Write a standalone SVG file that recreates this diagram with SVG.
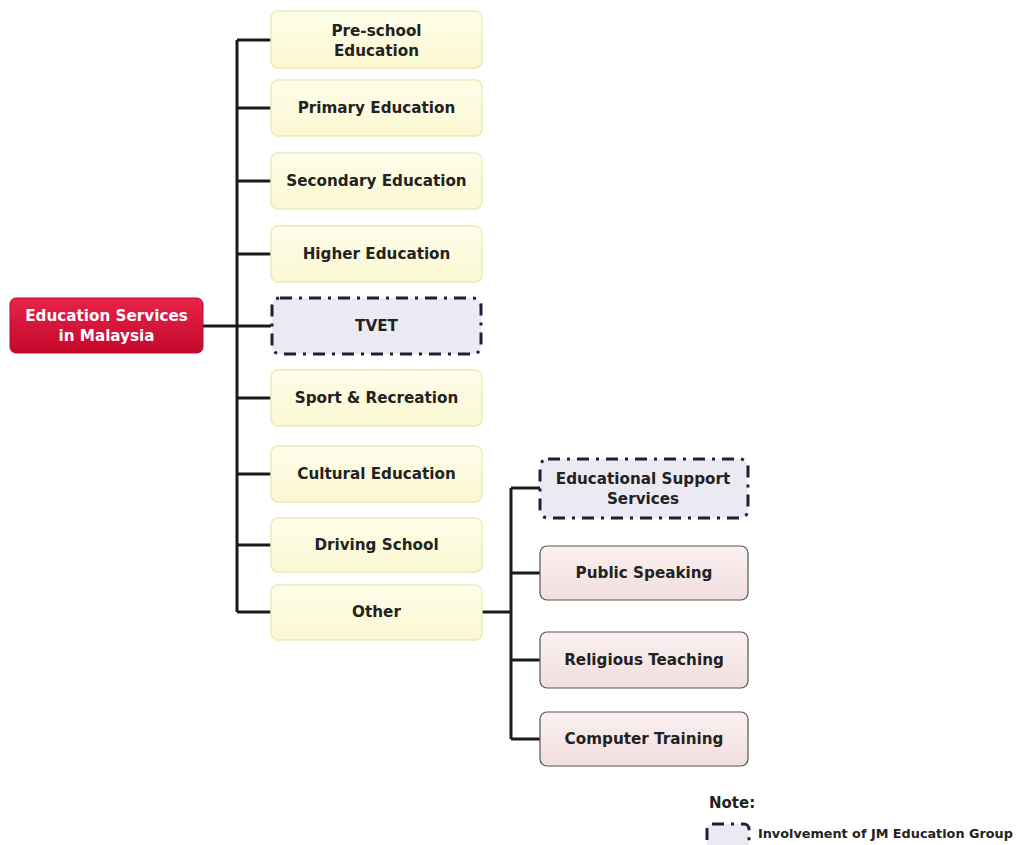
<svg xmlns="http://www.w3.org/2000/svg" width="1019" height="845" viewBox="0 0 1019 845">
<defs>
<linearGradient id="gRed" x1="0" y1="0" x2="0" y2="1">
<stop offset="0" stop-color="#e8234a"/>
<stop offset="1" stop-color="#c4082c"/>
</linearGradient>
<linearGradient id="gYel" x1="0" y1="0" x2="0" y2="1">
<stop offset="0" stop-color="#fefde9"/>
<stop offset="1" stop-color="#fbf8d2"/>
</linearGradient>
<linearGradient id="gPink" x1="0" y1="0" x2="0" y2="1">
<stop offset="0" stop-color="#faf0f0"/>
<stop offset="1" stop-color="#f2dedf"/>
</linearGradient>
<style>
text{font-family:"DejaVu Sans",Verdana,sans-serif;font-weight:bold;font-size:15.2px;fill:#222;text-anchor:middle}
.yel{fill:url(#gYel);stroke:#ecebb8;stroke-width:1.5}
.jm{fill:#ebeaf3;stroke:#1c2038;stroke-width:3;stroke-dasharray:12 7 3 7}
.pink{fill:url(#gPink);stroke:#555;stroke-width:1.2}
.red{fill:url(#gRed);stroke:#b0102c;stroke-width:1}
.wt{fill:#fff}
.con{fill:none;stroke:#1a1a1a;stroke-width:3}
</style>
</defs>
<rect width="1019" height="845" fill="#fff"/>
<g id="connectors">
<path class="con" d="M237 40 V612"/>
<path class="con" d="M237 40 H271 M237 108 H271 M237 181 H271 M237 254 H271 M237 398 H271 M237 474 H271 M237 545 H271 M237 612 H271"/>
<path class="con" d="M203 326 H271"/>
<path class="con" d="M482 612 H511"/>
<path class="con" d="M511 488 V739"/>
<path class="con" d="M511 488 H540 M511 573 H540 M511 660 H540 M511 739 H540"/>
</g>
<g id="root">
<rect class="red" x="10" y="298" width="193" height="55" rx="6"/>
<text class="wt" x="106.5" y="321">Education Services</text>
<text class="wt" x="106.5" y="341">in Malaysia</text>
</g>
<g id="preschool">
<rect class="yel" x="271" y="11" width="211" height="57" rx="7"/>
<text x="376.5" y="36">Pre-school</text>
<text x="376.5" y="56">Education</text>
</g>
<g id="primary">
<rect class="yel" x="271" y="80" width="211" height="56" rx="7"/>
<text x="376.5" y="113">Primary Education</text>
</g>
<g id="secondary">
<rect class="yel" x="271" y="153" width="211" height="56" rx="7"/>
<text x="376.5" y="186">Secondary Education</text>
</g>
<g id="higher">
<rect class="yel" x="271" y="226" width="211" height="56" rx="7"/>
<text x="376.5" y="259">Higher Education</text>
</g>
<g id="tvet">
<rect class="jm" x="272" y="298" width="209" height="56" rx="8"/>
<text x="376.5" y="331">TVET</text>
</g>
<g id="sport">
<rect class="yel" x="271" y="370" width="211" height="56" rx="7"/>
<text x="376.5" y="403">Sport &amp; Recreation</text>
</g>
<g id="cultural">
<rect class="yel" x="271" y="446" width="211" height="56" rx="7"/>
<text x="376.5" y="479">Cultural Education</text>
</g>
<g id="driving">
<rect class="yel" x="271" y="518" width="211" height="54" rx="7"/>
<text x="376.5" y="550">Driving School</text>
</g>
<g id="other">
<rect class="yel" x="271" y="585" width="211" height="55" rx="7"/>
<text x="376.5" y="617">Other</text>
</g>
<g id="support">
<rect class="jm" x="540" y="459" width="208" height="59" rx="8"/>
<text x="643" y="484">Educational Support</text>
<text x="643" y="504">Services</text>
</g>
<g id="public">
<rect class="pink" x="540" y="546" width="208" height="54" rx="7"/>
<text x="644" y="578">Public Speaking</text>
</g>
<g id="religious">
<rect class="pink" x="540" y="632" width="208" height="56" rx="7"/>
<text x="644" y="665">Religious Teaching</text>
</g>
<g id="computer">
<rect class="pink" x="540" y="712" width="208" height="54" rx="7"/>
<text x="644" y="744">Computer Training</text>
</g>
<g id="legend">
<text x="709" y="808" style="text-anchor:start;font-size:15px">Note:</text>
<rect class="jm" x="707" y="824" width="42" height="30" rx="5"/>
<text x="758" y="838" style="text-anchor:start;font-size:12.8px">Involvement of JM Education Group</text>
</g>
</svg>
